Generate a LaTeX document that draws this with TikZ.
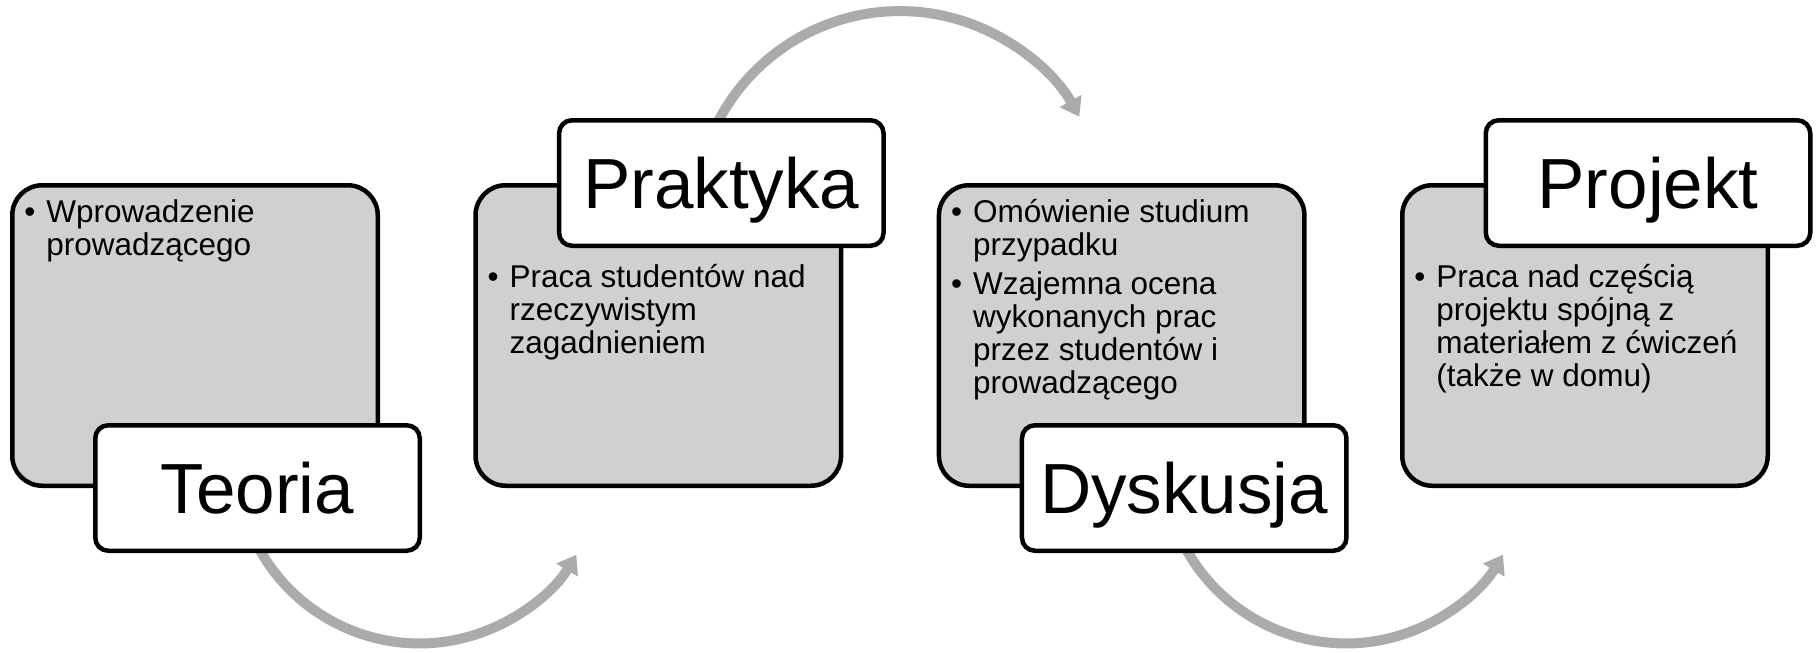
\documentclass[tikz,border=0pt]{standalone}
\usepackage{fontspec}
\setmainfont{Liberation Sans}
\usetikzlibrary{arrows.meta,backgrounds}
\definecolor{boxgray}{HTML}{D0D0D0}
\definecolor{arrowgray}{HTML}{ABABAB}
\newcommand{\bul}{\makebox[11pt][l]{•}}

\tikzset{
  panel/.style={draw, line width=2.25pt, fill=boxgray, rounded corners=15pt,
    minimum width=182.75pt, minimum height=150.25pt, inner sep=0pt},
  heading/.style={draw, line width=2.25pt, fill=white, rounded corners=6.5pt,
    minimum width=162.25pt, minimum height=62.75pt, inner sep=0pt,
    font=\fontsize{35.5pt}{42pt}\selectfont, text height=25.4pt, text depth=0pt},
  bullets/.style={inner sep=0pt, anchor=base west,
    font=\fontsize{15.75pt}{16.5pt}\selectfont},
  flowarrow/.style={draw=arrowgray, line width=5pt, -{Triangle[length=9pt,width=12pt]}}
}

\begin{document}
\begin{tikzpicture}[x=0.5pt,y=0.5pt]
\useasboundingbox (0,0) rectangle (1817,-653);

\node[panel] (teoriapanel) at (195,-335.5) {};
\node[heading] (teoria) at ([shift={(62.5,0)}]teoriapanel.south) {Teoria};
\node[bullets] (teoriatext) at ([shift={(14,-39)}]teoriapanel.north west)
  {\begin{tabular}[t]{@{}l@{}l@{}}
   \bul & Wprowadzenie\\
        & prowadzącego
   \end{tabular}};

\node[panel] (praktykapanel) at (658.3,-335.5) {};
\node[heading] (praktyka) at ([shift={(63,0)}]praktykapanel.north) {Praktyka};
\node[bullets] (praktykatext) at ([shift={(14,-104)}]praktykapanel.north west)
  {\begin{tabular}[t]{@{}l@{}l@{}}
   \bul & Praca studentów nad\\
        & rzeczywistym\\
        & zagadnieniem
   \end{tabular}};

\node[panel] (dyskusjapanel) at (1121.7,-335.5) {};
\node[heading] (dyskusja) at ([shift={(62.5,0)}]dyskusjapanel.south) {Dyskusja};
\node[bullets] (dyskusjatext) at ([shift={(14,-39)}]dyskusjapanel.north west)
  {\begin{tabular}[t]{@{}l@{}l@{}}
   \bul & Omówienie studium\\
        & przypadku\\[3pt]
   \bul & Wzajemna ocena\\
        & wykonanych prac\\
        & przez studentów i\\
        & prowadzącego
   \end{tabular}};

\node[panel] (projektpanel) at (1585,-335.5) {};
\node[heading] (projekt) at ([shift={(63,0)}]projektpanel.north) {Projekt};
\node[bullets] (projekttext) at ([shift={(14,-104)}]projektpanel.north west)
  {\begin{tabular}[t]{@{}l@{}l@{}}
   \bul & Praca nad częścią\\
        & projektu spójną z\\
        & materiałem z ćwiczeń\\
        & (także w domu)
   \end{tabular}};

\begin{scope}[on background layer]
\draw[flowarrow] ([shift={(-10,-35)}]teoria.center) arc[start angle=200, end angle=329, radius=183];
\draw[flowarrow] ([shift={(-14,37)}]praktyka.center) arc[start angle=160, end angle=29, radius=205];
\draw[flowarrow] ([shift={(-10,-35)}]dyskusja.center) arc[start angle=200, end angle=329, radius=183];
\end{scope}
\end{tikzpicture}
\end{document}
